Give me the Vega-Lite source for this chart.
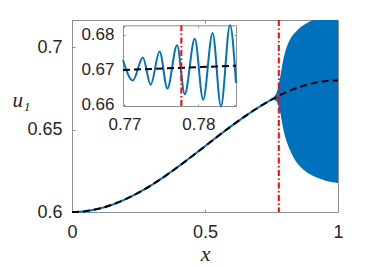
{
  "$schema": "https://vega.github.io/schema/vega-lite/v6.json",
  "width": 266,
  "height": 192,
  "autosize": "none",
  "padding": {"left": 72, "top": 20, "right": 36, "bottom": 55},
  "background": "white",
  "config": {
    "view": {"stroke": null},
    "axis": {
      "grid": false,
      "domainColor": "#8f8f8f",
      "tickColor": "#8f8f8f",
      "domainWidth": 1,
      "tickWidth": 1,
      "labelColor": "#262626",
      "labelFont": "Liberation Sans",
      "labelFlush": false,
      "labelOverlap": false,
      "titleColor": "#262626",
      "titleFont": "Liberation Serif",
      "titleFontStyle": "italic",
      "titleFontWeight": "normal",
      "format": "~g"
    }
  },
  "datasets": {
    "mean": [
      {"x": 0.0, "u": 0.6},
      {"x": 0.05, "u": 0.60049},
      {"x": 0.1, "u": 0.60196},
      {"x": 0.15, "u": 0.60436},
      {"x": 0.2, "u": 0.60764},
      {"x": 0.25, "u": 0.61172},
      {"x": 0.3, "u": 0.61649},
      {"x": 0.35, "u": 0.62184},
      {"x": 0.4, "u": 0.62764},
      {"x": 0.45, "u": 0.63374},
      {"x": 0.5, "u": 0.64},
      {"x": 0.55, "u": 0.64626},
      {"x": 0.6, "u": 0.65236},
      {"x": 0.65, "u": 0.65816},
      {"x": 0.7, "u": 0.66351},
      {"x": 0.75, "u": 0.66828},
      {"x": 0.8, "u": 0.67236},
      {"x": 0.85, "u": 0.67564},
      {"x": 0.9, "u": 0.67804},
      {"x": 0.95, "u": 0.67951},
      {"x": 1.0, "u": 0.68}
    ],
    "blue": [
      {"x": 0.0, "u": 0.6},
      {"x": 0.05, "u": 0.60049},
      {"x": 0.1, "u": 0.60196},
      {"x": 0.15, "u": 0.60436},
      {"x": 0.2, "u": 0.60764},
      {"x": 0.25, "u": 0.61172},
      {"x": 0.3, "u": 0.61649},
      {"x": 0.35, "u": 0.62184},
      {"x": 0.4, "u": 0.62764},
      {"x": 0.45, "u": 0.63374},
      {"x": 0.5, "u": 0.64},
      {"x": 0.55, "u": 0.64626},
      {"x": 0.6, "u": 0.65236},
      {"x": 0.65, "u": 0.65816},
      {"x": 0.7, "u": 0.66351},
      {"x": 0.75, "u": 0.66828},
      {"x": 0.755, "u": 0.66872}
    ],
    "blob": [
      {"x": 0.755, "lo": 0.6680, "hi": 0.6694},
      {"x": 0.765, "lo": 0.6678, "hi": 0.6712},
      {"x": 0.770, "lo": 0.6670, "hi": 0.6730},
      {"x": 0.775, "lo": 0.6650, "hi": 0.6758},
      {"x": 0.780, "lo": 0.6618, "hi": 0.6798},
      {"x": 0.785, "lo": 0.6588, "hi": 0.6842},
      {"x": 0.790, "lo": 0.6540, "hi": 0.6890},
      {"x": 0.795, "lo": 0.6500, "hi": 0.6930},
      {"x": 0.800, "lo": 0.6465, "hi": 0.6965},
      {"x": 0.810, "lo": 0.6415, "hi": 0.7015},
      {"x": 0.820, "lo": 0.6375, "hi": 0.7050},
      {"x": 0.835, "lo": 0.6325, "hi": 0.7085},
      {"x": 0.850, "lo": 0.6290, "hi": 0.7110},
      {"x": 0.865, "lo": 0.6265, "hi": 0.7130},
      {"x": 0.880, "lo": 0.6245, "hi": 0.7145},
      {"x": 0.905, "lo": 0.6220, "hi": 0.7165},
      {"x": 0.930, "lo": 0.6203, "hi": 0.7180},
      {"x": 0.960, "lo": 0.6187, "hi": 0.7195},
      {"x": 1.000, "lo": 0.6176, "hi": 0.7205}
    ],
    "red": [{"x": 0.7775}],
    "inset": [
      {"x": 0.7698, "u": 0.6728},
      {"x": 0.77113, "u": 0.6670},
      {"x": 0.77249, "u": 0.6736},
      {"x": 0.77354, "u": 0.6658},
      {"x": 0.77476, "u": 0.6753},
      {"x": 0.77581, "u": 0.6647},
      {"x": 0.77712, "u": 0.6771},
      {"x": 0.77816, "u": 0.6631},
      {"x": 0.77952, "u": 0.6789},
      {"x": 0.78065, "u": 0.6615},
      {"x": 0.78193, "u": 0.6806},
      {"x": 0.78306, "u": 0.6596},
      {"x": 0.78429, "u": 0.6828},
      {"x": 0.7851, "u": 0.6663}
    ],
    "insetMean": [
      {"x": 0.7698, "u": 0.66999},
      {"x": 0.7851, "u": 0.67122}
    ],
    "insetRed": [{"x": 0.7777, "y": 0.65971, "y2": 0.68277}]
  },
  "layer": [
    {
      "layer": [
        {
          "data": {"name": "blob"},
          "mark": {"type": "area", "color": "#0072BD", "interpolate": "monotone", "clip": true},
          "encoding": {
            "x": {"field": "x", "type": "quantitative",
              "scale": {"domain": [0, 1], "nice": false, "zero": false},
              "axis": {"orient": "bottom", "values": [0, 0.5, 1], "labelFontSize": 18, "tickSize": -3, "labelPadding": 14,
                "title": "x", "titleFontSize": 22, "titleY": 48, "titleBaseline": "alphabetic"}},
            "y": {"field": "lo", "type": "quantitative",
              "scale": {"domain": [0.6, 0.7167], "nice": false, "zero": false},
              "axis": {"orient": "left", "values": [0.6, 0.65, 0.7], "labelFontSize": 18, "tickSize": -3, "labelPadding": 13,
                "title": "u₁", "titleFontSize": 21, "titleAngle": 0, "titleX": -51, "titleY": 86, "titleAlign": "center", "titleBaseline": "alphabetic"}},
            "y2": {"field": "hi"}
          }
        },
        {
          "data": {"name": "blue"},
          "mark": {"type": "line", "color": "#0072BD", "strokeWidth": 2, "interpolate": "monotone"},
          "encoding": {
            "x": {"field": "x", "type": "quantitative"},
            "y": {"field": "u", "type": "quantitative"}
          }
        },
        {
          "data": {"name": "mean"},
          "mark": {"type": "line", "color": "#000000", "strokeWidth": 2, "strokeDash": [7, 4], "interpolate": "monotone"},
          "encoding": {
            "x": {"field": "x", "type": "quantitative"},
            "y": {"field": "u", "type": "quantitative"}
          }
        },
        {
          "data": {"name": "red"},
          "mark": {"type": "rule", "color": "#FF0000", "strokeWidth": 2, "strokeDash": [6, 2.5, 1.5, 2.5]},
          "encoding": {
            "x": {"field": "x", "type": "quantitative"}
          }
        }
      ]
    },
    {
      "data": {"name": "mean"},
      "mark": {"type": "point", "opacity": 0},
      "encoding": {
        "x": {"field": "x", "type": "quantitative",
          "scale": {"domain": [0, 1], "nice": false, "zero": false},
          "axis": {"orient": "top", "values": [0, 0.5, 1], "labels": false, "tickSize": -3, "title": null}},
        "y": {"field": "u", "type": "quantitative",
          "scale": {"domain": [0.6, 0.7167], "nice": false, "zero": false},
          "axis": {"orient": "right", "values": [0.6, 0.65, 0.7], "labels": false, "tickSize": -3, "title": null}}
      }
    },
    {
      "layer": [
        {
          "data": {"name": "inset"},
          "mark": {"type": "line", "color": "#0072BD", "strokeWidth": 2, "interpolate": "monotone", "clip": true},
          "encoding": {
            "x": {"field": "x", "type": "quantitative",
              "scale": {"domain": [0.7698, 0.7851], "range": [51, 164], "nice": false, "zero": false},
              "axis": {"orient": "bottom", "offset": -106, "values": [0.77, 0.78], "labelFontSize": 17, "tickSize": -2, "labelPadding": 12, "title": null}},
            "y": {"field": "u", "type": "quantitative",
              "scale": {"domain": [0.65971, 0.68277], "range": [86, 5.3], "nice": false, "zero": false},
              "axis": {"orient": "left", "offset": -51, "values": [0.66, 0.67, 0.68], "labelFontSize": 17, "tickSize": -2, "labelPadding": 11, "title": null}}
          }
        },
        {
          "data": {"name": "insetMean"},
          "mark": {"type": "line", "color": "#000000", "strokeWidth": 2, "strokeDash": [7, 4]},
          "encoding": {
            "x": {"field": "x", "type": "quantitative"},
            "y": {"field": "u", "type": "quantitative"}
          }
        },
        {
          "data": {"name": "insetRed"},
          "mark": {"type": "rule", "color": "#FF0000", "strokeWidth": 2, "strokeDash": [6, 2.5, 1.5, 2.5]},
          "encoding": {
            "x": {"field": "x", "type": "quantitative"},
            "y": {"field": "y", "type": "quantitative"},
            "y2": {"field": "y2"}
          }
        }
      ]
    },
    {
      "data": {"name": "insetMean"},
      "mark": {"type": "point", "opacity": 0},
      "encoding": {
        "x": {"field": "x", "type": "quantitative",
          "scale": {"domain": [0.7698, 0.7851], "range": [51, 164], "nice": false, "zero": false},
          "axis": {"orient": "top", "offset": -5.3, "values": [0.77, 0.78], "labels": false, "tickSize": -2, "title": null}},
        "y": {"field": "u", "type": "quantitative",
          "scale": {"domain": [0.65971, 0.68277], "range": [86, 5.3], "nice": false, "zero": false},
          "axis": {"orient": "right", "offset": -102, "values": [0.66, 0.67, 0.68], "labels": false, "tickSize": -2, "title": null}}
      }
    }
  ],
  "resolve": {
    "scale": {"x": "independent", "y": "independent"},
    "axis": {"x": "independent", "y": "independent"}
  }
}
